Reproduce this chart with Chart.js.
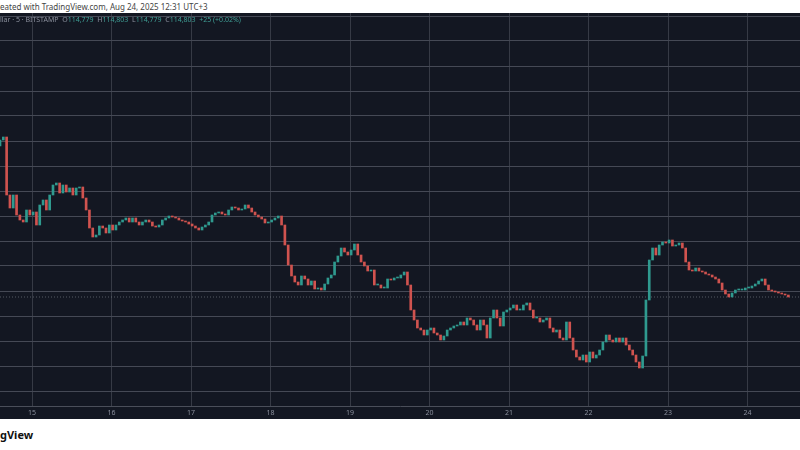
<!DOCTYPE html>
<html><head><meta charset="utf-8">
<script src="https://cdn.jsdelivr.net/npm/chart.js@4"></script>
<style>
html,body{margin:0;padding:0;background:#fff;width:800px;height:450px;overflow:hidden;font-family:"Noto Sans",sans-serif}
#hdr{position:absolute;left:0;top:0;height:13px;line-height:13px;font-size:8px;color:#444;white-space:nowrap}
#wrap{position:absolute;left:0;top:13px;width:800px;height:406px;background:#131722}
#leg{position:absolute;left:0;top:15px;font-size:7px;color:#8a8f9c;white-space:nowrap;z-index:2}
#leg b{font-weight:normal;color:#3f9e95}
#foot{position:absolute;left:0;top:427px;font-size:11px;font-weight:bold;color:#111}
</style></head><body>
<div id="hdr">eated with TradingView.com, Aug 24, 2025 12:31 UTC+3</div>
<div id="wrap"><canvas id="c" width="800" height="406"></canvas></div>
<div id="leg">llar · 5 · BITSTAMP &nbsp;O<b>114,779</b> &nbsp;H<b>114,803</b> &nbsp;L<b>114,779</b> &nbsp;C<b>114,803</b> &nbsp;<b>+25 (+0.02%)</b></div>
<div id="foot">gView</div>
<script>
const dayLabels = ["15","16","17","18","19","20","21","22","23","24"];
const priceTicks = [111000,112000,113000,114000,115000,116000,117000,118000,119000,120000,121000,122000,123000,124000,125000,126000];
const firstOpen = 120800;
const closes = [121040,121160,118840,118320,118840,118040,117840,117760,118240,118040,118160,117640,118440,118640,118240,118840,119240,119320,118920,119240,118960,119120,118840,119120,119160,118720,118240,117520,117160,117240,117600,117520,117320,117640,117440,117640,117760,117840,117920,117760,117920,117760,117640,117760,117840,117760,117600,117560,117640,117840,117920,118000,117960,117920,117840,117800,117760,117680,117600,117520,117440,117560,117640,117760,118040,118120,118160,118080,118040,118240,118360,118320,118240,118280,118440,118320,118160,118040,117960,117880,117720,117760,117840,117920,118000,117640,116840,116040,115600,115360,115240,115600,115480,115240,115400,115080,115120,115040,115280,115520,115640,116160,116400,116720,116560,116440,116640,116880,116440,116160,116000,115800,115840,115240,115240,115120,115120,115480,115440,115520,115520,115640,115760,115240,114240,113840,113520,113440,113240,113440,113520,113320,113240,113040,113200,113440,113520,113600,113640,113760,113640,113920,113840,113640,113440,113840,113640,113120,113920,114240,113920,113600,114160,114240,114320,114440,114240,114240,114440,114520,114240,113920,113920,113760,113840,113920,113520,113360,113440,113120,113040,113760,113120,112640,112360,112240,112440,112160,112560,112320,112440,112640,112960,113240,113040,112960,113120,112960,113120,112840,112640,112440,112160,111920,112400,114640,116240,116720,116440,116840,116960,116920,117040,116800,116840,116920,116720,116160,115840,115800,115920,115800,115760,115680,115640,115560,115480,115320,115040,114880,114760,114920,115040,115040,115040,115120,115120,115200,115280,115400,115480,115240,115040,115000,114960,114920,114880,114840,114760];
const opens = closes.map((c,i)=> i===0 ? firstOpen : closes[i-1]);
const hoursPerPx = 1/3.3125;
const day15Hour = 32*hoursPerPx;
const UP='#2f9a8f', DOWN='#d0534f';
const bars = closes.map((c,i)=>({x:i, y:[opens[i], c]}));
const cols = closes.map((c,i)=> c>=opens[i]?UP:DOWN);
const last = closes[closes.length-1];
new Chart(document.getElementById('c'),{
  data:{datasets:[
    {type:'bar',data:bars,backgroundColor:cols,borderWidth:0,barThickness:2,minBarLength:1,grouped:false},
    {type:'line',data:[{x:0,y:last},{x:260,y:last}],borderColor:'rgba(150,155,165,0.5)',borderWidth:1,borderDash:[1,2],pointRadius:0}
  ]},
  options:{responsive:false,animation:false,events:[],
    layout:{padding:0},
    plugins:{legend:{display:false},tooltip:{enabled:false}},
    scales:{
      x:{type:'linear',offset:false,min:0,max:800*hoursPerPx,
        afterBuildTicks:s=>{s.ticks=dayLabels.map((d,k)=>({value:day15Hour+24*k}));},
        afterFit:s=>{s.height=13;},
        ticks:{autoSkip:false,maxRotation:0,padding:3,color:'#8a8f9c',font:{size:7,family:'Noto Sans'},callback:(v,idx)=>dayLabels[idx]},
        grid:{offset:false,color:'#363a45',lineWidth:1,drawTicks:false},
        border:{color:'#4a4e59'}},
      y:{type:'linear',display:true,min:110400,max:126120,
        afterBuildTicks:s=>{s.ticks=priceTicks.map(v=>({value:v}));},
        afterFit:s=>{s.width=0;},
        ticks:{display:false},
        grid:{color:'#454955',lineWidth:1,drawTicks:false},
        border:{display:false}}
    }}
});
</script></body></html>
